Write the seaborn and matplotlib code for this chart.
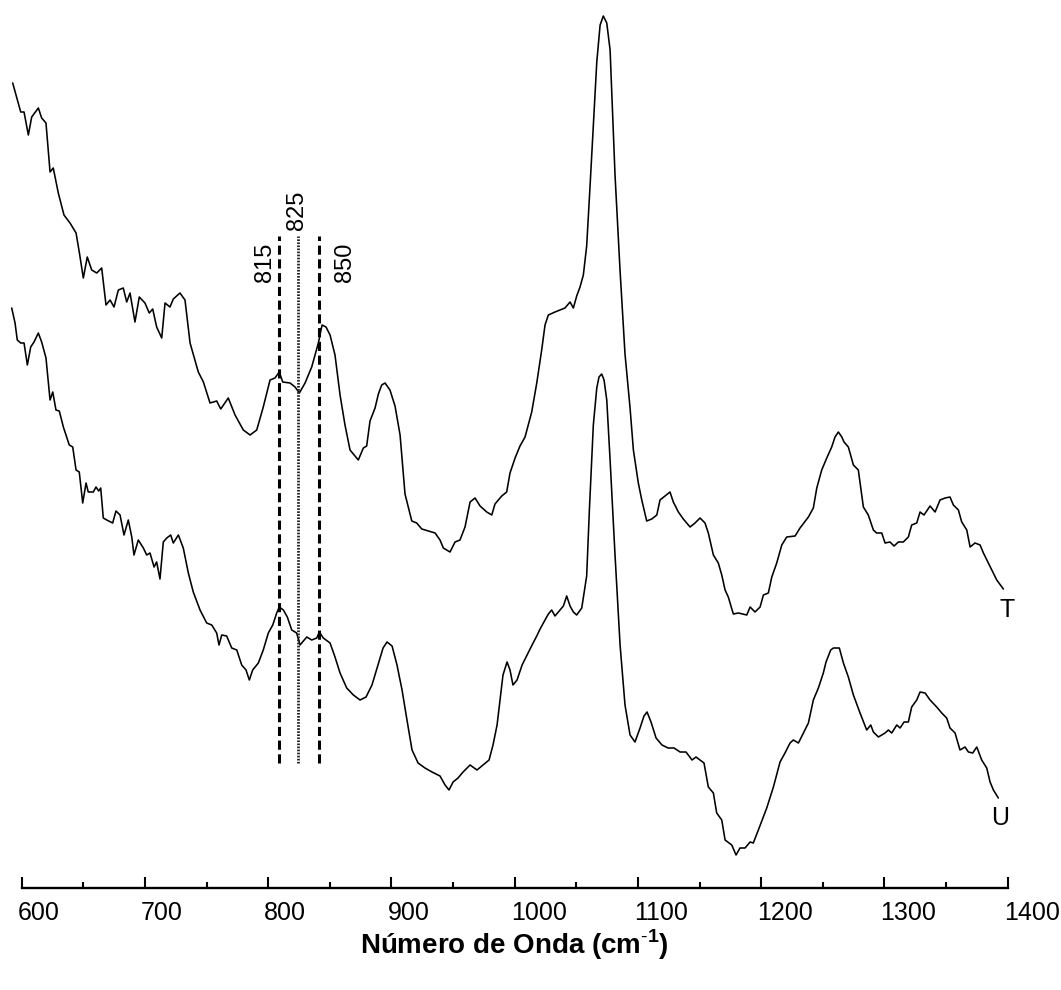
import numpy as np
import pandas as pd
import seaborn as sns
import matplotlib.pyplot as plt
from matplotlib import transforms
from matplotlib.ticker import MultipleLocator

# Raman spectra (intensity in arbitrary units)
t_wavenumber = [
    592.7, 599.2, 601.9, 605.4, 608.1, 613.5, 616.2, 619.7, 623.0, 625.6,
    629.7, 634.3, 639.2, 644.1, 646.7, 650.0, 653.2, 656.8, 660.9, 664.9,
    668.4, 671.7, 674.9, 678.4, 682.4, 685.2, 687.9, 691.9, 695.4, 700.0,
    703.5, 706.3, 709.5, 713.6, 716.3, 720.3, 723.0, 728.4, 732.5, 736.6,
    743.3, 747.4, 752.8, 758.2, 761.5, 767.6, 773.1, 779.8, 785.3, 790.7,
    796.0, 801.5, 805.5, 809.0, 811.8, 817.7, 821.8, 825.3, 829.9, 835.3,
    840.7, 843.7, 846.9, 850.2, 854.2, 858.3, 862.3, 866.4, 869.1, 873.1,
    877.2, 879.9, 882.6, 886.7, 889.4, 892.1, 894.8, 898.8, 902.9, 907.0,
    911.0, 916.5, 920.5, 924.6, 929.9, 935.4, 939.4, 942.1, 947.5, 951.6,
    955.6, 959.7, 963.8, 967.8, 971.9, 977.3, 981.4, 984.0, 989.5, 993.5,
    996.2, 1000.3, 1004.3, 1008.4, 1013.8, 1017.9, 1021.9, 1024.6, 1027.3, 1032.7,
    1036.8, 1040.8, 1044.9, 1047.6, 1050.3, 1053.0, 1055.7, 1058.4, 1061.1, 1063.8,
    1066.6, 1069.3, 1071.9, 1074.7, 1077.4, 1081.4, 1085.5, 1089.5, 1093.6, 1096.3,
    1100.3, 1103.1, 1107.1, 1111.2, 1115.3, 1117.9, 1122.0, 1126.0, 1128.7, 1132.8,
    1136.8, 1142.3, 1146.3, 1150.4, 1154.4, 1157.1, 1161.2, 1165.2, 1168.0, 1170.7,
    1173.3, 1177.4, 1181.5, 1188.3, 1191.0, 1195.0, 1199.1, 1201.8, 1205.8, 1208.6,
    1212.6, 1216.7, 1220.7, 1227.5, 1231.5, 1238.3, 1242.3, 1245.1, 1249.1, 1253.2,
    1257.2, 1259.9, 1262.6, 1265.4, 1267.2, 1270.7, 1274.8, 1278.8, 1282.9, 1286.9,
    1291.0, 1293.7, 1297.8, 1300.5, 1304.5, 1307.8, 1311.3, 1315.3, 1319.4, 1322.1,
    1326.2, 1328.9, 1332.1, 1337.0, 1341.1, 1345.1, 1349.2, 1353.2, 1355.9, 1360.0,
    1362.7, 1366.8, 1369.5, 1373.5, 1377.6, 1380.3, 1384.3, 1388.4, 1391.1, 1396.5,
]
t_intensity = [
    805, 776, 776, 753, 771, 780, 770, 765, 716, 720,
    695, 673, 665, 655, 636, 610, 631, 618, 615, 620,
    583, 588, 581, 598, 600, 586, 595, 566, 591, 585,
    575, 579, 561, 550, 585, 581, 589, 595, 588, 545,
    516, 506, 485, 487, 479, 490, 473, 458, 453, 458,
    481, 508, 510, 516, 506, 505, 501, 495, 505, 521,
    545, 563, 561, 553, 533, 493, 463, 438, 434, 428,
    440, 442, 467, 480, 494, 503, 505, 498, 482, 453,
    394, 367, 365, 359, 357, 355, 348, 340, 336, 346,
    348, 361, 386, 390, 382, 376, 373, 384, 392, 396,
    415, 430, 442, 451, 476, 505, 538, 563, 573, 576,
    578, 580, 586, 580, 592, 601, 613, 642, 701, 763,
    826, 863, 872, 865, 838, 713, 617, 534, 480, 438,
    405, 388, 367, 369, 373, 388, 392, 396, 386, 376,
    369, 361, 365, 370, 365, 355, 333, 325, 313, 298,
    291, 274, 275, 273, 281, 276, 281, 293, 295, 311,
    325, 343, 351, 352, 360, 371, 380, 400, 418, 430,
    441, 451, 456, 451, 446, 441, 423, 418, 381, 373,
    358, 355, 355, 345, 346, 342, 346, 346, 351, 363,
    365, 376, 373, 382, 376, 388, 390, 391, 383, 378,
    366, 358, 341, 345, 343, 335, 325, 315, 308, 299,
]

u_wavenumber = [
    591.9, 594.6, 596.4, 599.2, 601.9, 604.6, 607.3, 610.0, 613.5, 616.2,
    619.7, 623.0, 625.2, 627.8, 630.5, 633.8, 636.5, 638.6, 641.4, 644.1,
    646.7, 649.5, 652.2, 654.0, 658.1, 660.3, 662.5, 664.1, 666.2, 669.0,
    673.8, 676.5, 679.8, 683.0, 686.5, 689.3, 691.1, 694.6, 698.7, 701.4,
    704.1, 707.4, 709.5, 712.2, 714.9, 717.7, 720.9, 723.0, 727.1, 731.1,
    735.2, 739.2, 744.7, 750.1, 754.2, 758.2, 760.1, 762.3, 766.3, 770.4,
    774.5, 778.5, 782.0, 784.7, 787.4, 792.0, 796.0, 800.1, 803.7, 806.9,
    809.0, 812.3, 815.5, 819.1, 823.1, 825.8, 831.3, 835.3, 839.4, 841.5,
    844.7, 850.2, 854.2, 858.3, 863.7, 869.1, 874.5, 879.4, 884.2, 889.1,
    893.2, 896.4, 900.5, 904.5, 908.6, 912.6, 916.7, 921.6, 927.2, 932.9,
    939.4, 943.5, 946.7, 950.0, 954.0, 958.1, 963.8, 969.4, 974.3, 979.2,
    982.4, 985.7, 988.1, 990.5, 993.8, 996.2, 998.6, 1001.9, 1006.0, 1010.0,
    1014.1, 1017.9, 1020.6, 1024.6, 1027.3, 1030.0, 1032.7, 1036.8, 1039.5, 1042.2,
    1044.9, 1047.6, 1050.3, 1054.4, 1058.4, 1060.6, 1063.8, 1066.6, 1068.4, 1070.6,
    1072.5, 1074.7, 1077.4, 1081.4, 1085.5, 1089.5, 1093.6, 1097.6, 1101.7, 1104.9,
    1107.4, 1110.6, 1114.7, 1119.5, 1124.4, 1129.3, 1134.2, 1139.0, 1143.9, 1147.1,
    1150.4, 1153.6, 1157.1, 1161.2, 1163.9, 1168.0, 1170.7, 1176.1, 1179.6, 1182.8,
    1186.9, 1191.0, 1193.6, 1197.7, 1204.5, 1209.9, 1215.3, 1219.3, 1223.4, 1226.1,
    1230.2, 1234.2, 1238.3, 1242.3, 1246.4, 1250.4, 1252.6, 1256.4, 1258.6, 1261.3,
    1263.4, 1266.7, 1270.7, 1274.8, 1280.2, 1285.6, 1288.9, 1291.0, 1295.1, 1300.5,
    1303.2, 1305.9, 1310.0, 1312.7, 1315.9, 1319.4, 1322.1, 1326.2, 1328.9, 1333.0,
    1337.0, 1342.4, 1346.5, 1350.5, 1353.2, 1357.3, 1361.3, 1365.4, 1368.1, 1371.6,
    1374.9, 1378.9, 1383.0, 1385.7, 1388.4, 1392.4,
]
u_intensity = [
    580, 565, 548, 545, 545, 523, 541, 546, 555, 546,
    530, 488, 496, 478, 477, 461, 451, 443, 441, 418,
    416, 385, 405, 396, 396, 401, 397, 400, 370, 368,
    365, 377, 373, 353, 368, 351, 333, 348, 340, 333,
    335, 321, 326, 309, 346, 350, 353, 345, 353, 340,
    315, 296, 278, 265, 263, 255, 243, 253, 252, 240,
    238, 223, 218, 208, 218, 225, 238, 255, 263, 275,
    281, 278, 271, 258, 255, 243, 251, 248, 250, 256,
    250, 245, 231, 215, 200, 193, 188, 191, 203, 223,
    240, 246, 242, 223, 198, 168, 138, 125, 120, 116,
    112, 103, 98, 106, 110, 116, 123, 118, 123, 128,
    143, 163, 188, 213, 226, 218, 203, 208, 223, 233,
    243, 252, 259, 268, 274, 278, 272, 278, 282, 292,
    282, 276, 273, 280, 312, 378, 463, 500, 511, 514,
    508, 488, 428, 333, 243, 183, 153, 146, 160, 172,
    176, 166, 150, 143, 140, 140, 136, 136, 128, 131,
    128, 125, 101, 95, 75, 68, 48, 43, 33, 40,
    40, 46, 45, 58, 80, 101, 126, 135, 145, 148,
    145, 155, 165, 188, 200, 215, 226, 238, 240, 240,
    240, 225, 211, 193, 175, 158, 163, 156, 151, 155,
    158, 155, 163, 160, 166, 166, 181, 188, 196, 195,
    188, 181, 175, 170, 160, 155, 138, 141, 136, 135,
    141, 128, 120, 106, 98, 90,
]

# marker lines and their labels
band_positions = [809, 824, 841]
band_labels = ['815', '825', '850']
band_styles = ['dashed', 'dotted', 'dashed']

sns.set_theme(style='white')
plt.rcParams['font.family'] = ['Liberation Sans', 'DejaVu Sans']
plt.rcParams['mathtext.fontset'] = 'custom'
plt.rcParams['mathtext.rm'] = 'Liberation Sans'
plt.rcParams['mathtext.bf'] = 'Liberation Sans:bold'
plt.rcParams['text.color'] = 'black'
plt.rcParams['axes.labelcolor'] = 'black'
plt.rcParams['xtick.color'] = 'black'
plt.rcParams['xtick.labelcolor'] = 'black'

fig = plt.figure(figsize=(10.61, 9.90), dpi=100)
ax = fig.add_axes([0.008836, 0.10303, 0.95254, 0.89697])

df_t = pd.DataFrame({'wn': t_wavenumber, 'I': t_intensity})
df_u = pd.DataFrame({'wn': u_wavenumber, 'I': u_intensity})
for df in (df_t, df_u):
    sns.lineplot(data=df, x='wn', y='I', ax=ax, color='black', linewidth=1.15,
                 estimator=None, sort=False)

# vertical reference lines
for pos, style in zip(band_positions, band_styles):
    if style == 'dashed':
        ax.plot([pos, pos], [125, 652], color='black', linewidth=2.2,
                dashes=(3.0, 1.5))
    else:
        ax.plot([pos, pos], [125, 652], color='#222222', linewidth=2.0,
                dashes=(0.6, 0.5))

ax.text(797.5, 626, band_labels[0], rotation=90, ha='center', va='center', fontsize=17)
ax.text(823.4, 678, band_labels[1], rotation=90, ha='center', va='center', fontsize=17)
ax.text(862.3, 626, band_labels[2], rotation=90, ha='center', va='center', fontsize=17)

ax.text(1399.5, 278, 'T', ha='center', va='center', fontsize=18)
ax.text(1393.8, 70, 'U', ha='center', va='center', fontsize=18)

ax.set_xlim(590, 1410)
ax.set_ylim(0, 888)
ax.set_ylabel('')
ax.set_yticks([])
for side in ('left', 'right', 'top'):
    ax.spines[side].set_visible(False)
ax.spines['bottom'].set_bounds(600, 1400)
ax.spines['bottom'].set_linewidth(1.7)
ax.spines['bottom'].set_color('black')

ax.xaxis.set_major_locator(MultipleLocator(100))
ax.xaxis.set_minor_locator(MultipleLocator(50))
ax.set_xticks(np.arange(600, 1401, 100))
ax.tick_params(axis='x', which='major', direction='in', length=8, width=1.5,
               color='black', labelcolor='black', labelsize=18, pad=9, bottom=True)
ax.tick_params(axis='x', which='minor', direction='in', length=4.3, width=1.5,
               color='black', bottom=True)

# labels in the source start at the tick rather than being centred on it
offset = transforms.ScaledTranslation(-4 / 100, 0, fig.dpi_scale_trans)
for lab in ax.get_xticklabels():
    lab.set_horizontalalignment('left')
    lab.set_transform(lab.get_transform() + offset)

ax.set_xlabel(r'Número de Onda (cm$^{\mathbf{\text{-}1}}$)', fontsize=20,
              fontweight='bold', color='black')
ax.xaxis.label.set_va('center')
ax.xaxis.set_label_coords(0.5, -0.064)

fig.savefig('out.png', dpi=100)
plt.close(fig)
